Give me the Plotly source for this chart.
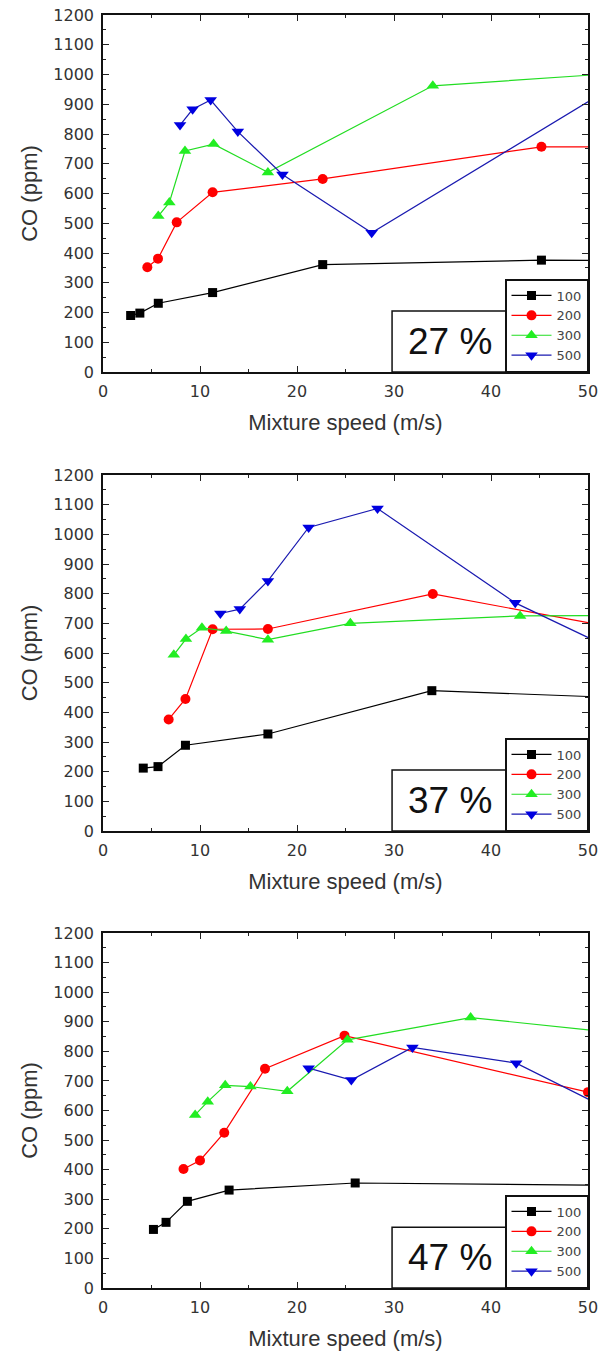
import plotly.graph_objects as go

# ---------------- data ----------------
series_names = ["100", "200", "300", "500"]
panel_labels = ["27 %", "37 %", "47 %"]

# Panel 1 (27 %)
p1_x_100 = [2.85, 3.8, 5.7, 11.3, 22.65, 45.2, 52]
p1_y_100 = [190, 198, 231, 267, 361, 376, 375]
p1_x_200 = [4.57, 5.67, 7.6, 11.3, 22.65, 45.2, 52]
p1_y_200 = [352, 381, 503, 604, 649, 757, 757]
p1_x_300 = [5.7, 6.84, 8.45, 11.4, 17.0, 34.0, 52]
p1_y_300 = [524, 570, 743, 766, 671, 962, 1002]
p1_x_500 = [7.94, 9.24, 11.1, 13.9, 18.5, 27.7, 52]
p1_y_500 = [830, 883, 914, 808, 664, 468, 948]

# Panel 2 (37 %)
p2_x_100 = [4.15, 5.67, 8.5, 17.0, 33.9, 52]
p2_y_100 = [212, 217, 289, 327, 473, 451]
p2_x_200 = [6.77, 8.5, 11.3, 17.0, 34.0, 52]
p2_y_200 = [376, 445, 680, 681, 799, 690]
p2_x_300 = [7.3, 8.55, 10.2, 12.7, 17.0, 25.5, 43.0, 52]
p2_y_300 = [594, 647, 685, 674, 645, 700, 725, 726]
p2_x_500 = [12.1, 14.1, 17.0, 21.2, 28.3, 42.5, 52]
p2_y_500 = [733, 748, 843, 1023, 1087, 769, 621]

# Panel 3 (47 %)
p3_x_100 = [5.2, 6.5, 8.7, 13.0, 26.0, 52]
p3_y_100 = [198, 222, 293, 331, 355, 347]
p3_x_200 = [8.3, 10.0, 12.5, 16.7, 24.9, 50.0]
p3_y_200 = [402, 431, 525, 741, 853, 662]
p3_x_300 = [9.5, 10.8, 12.6, 15.2, 19.0, 25.2, 37.9, 52]
p3_y_300 = [585, 630, 685, 681, 665, 839, 914, 866]
p3_x_500 = [21.2, 25.6, 31.9, 42.6, 52]
p3_y_500 = [743, 703, 813, 760, 606]

x_tick_vals = [0, 10, 20, 30, 40, 50]
y_tick_vals = list(range(0, 1201, 100))

panels = [
    [(p1_x_100, p1_y_100), (p1_x_200, p1_y_200), (p1_x_300, p1_y_300), (p1_x_500, p1_y_500)],
    [(p2_x_100, p2_y_100), (p2_x_200, p2_y_200), (p2_x_300, p2_y_300), (p2_x_500, p2_y_500)],
    [(p3_x_100, p3_y_100), (p3_x_200, p3_y_200), (p3_x_300, p3_y_300), (p3_x_500, p3_y_500)],
]

# ---------------- style ----------------
W, H = 612, 1354
line_colors = ["#000000", "#ff0000", "#22dd22", "#1a1ab0"]
marker_colors = ["#000000", "#ff0000", "#22ee22", "#0000e0"]
symbols = ["square", "circle", "triangle-up", "triangle-down"]
msizes = [9, 10, 11, 11]

x_left, x_right = 103, 588
panel_px = [(15, 372), (475, 831), (933, 1288)]

tick_font = dict(family="DejaVu Sans, sans-serif", size=16, color="#333")
title_font = dict(family="Liberation Sans, Arial, sans-serif", size=22, color="#333")

fig = go.Figure()
layout = dict(
    width=W, height=H,
    margin=dict(l=0, r=0, t=0, b=0, autoexpand=False),
    paper_bgcolor="white", plot_bgcolor="white",
    font=dict(family="Liberation Sans, Arial, sans-serif", color="#333"),
    shapes=[], annotations=[],
)

for i, panel in enumerate(panels):
    sfx = "" if i == 0 else str(i + 1)
    leg = "legend" if i == 0 else f"legend{i + 1}"
    for j, (xs, ys) in enumerate(panel):
        fig.add_trace(go.Scatter(
            x=xs, y=ys, name=series_names[j], mode="lines+markers",
            xaxis="x" + sfx, yaxis="y" + sfx, legend=leg,
            line=dict(color=line_colors[j], width=1.2),
            marker=dict(symbol=symbols[j], size=msizes[j], color=marker_colors[j]),
            cliponaxis=True,
        ))
    top, bot = panel_px[i]
    ydom = [1 - bot / H, 1 - top / H]
    layout["xaxis" + sfx] = dict(
        domain=[x_left / W, x_right / W], anchor="y" + sfx, range=[0, 50],
        automargin=False, ticklabeloverflow="allow", ticklabelstandoff=4,
        tickvals=x_tick_vals, ticks="inside", ticklen=6, tickwidth=1.2, tickcolor="#222",
        minor=dict(dtick=5, ticks="inside", ticklen=3, tickcolor="#222"),
        showline=True, linecolor="#111", linewidth=1.5, mirror="ticks",
        showgrid=False, zeroline=False,
        tickfont=tick_font,
        title=dict(text="Mixture speed (m/s)", font=title_font, standoff=15),
    )
    layout["yaxis" + sfx] = dict(
        domain=ydom, anchor="x" + sfx, range=[0, 1200],
        automargin=False, ticklabeloverflow="allow", ticklabelstandoff=4,
        tickvals=y_tick_vals, ticks="inside", ticklen=6, tickwidth=1.2, tickcolor="#222",
        minor=dict(dtick=50, ticks="inside", ticklen=3, tickcolor="#222"),
        showline=True, linecolor="#111", linewidth=1.5, mirror="ticks",
        showgrid=False, zeroline=False,
        tickfont=tick_font,
        title=dict(text="CO (ppm)", font=title_font, standoff=10),
    )
    layout[leg] = dict(
        x=x_right / W, xanchor="right", y=1 - bot / H, yanchor="bottom",
        bordercolor="#111", borderwidth=1.5, bgcolor="white",
        font=dict(family="DejaVu Sans, sans-serif", size=13, color="#444"),
        tracegroupgap=0, itemwidth=40,
    )
    # label box
    layout["shapes"].append(dict(
        type="rect", xref=f"x{sfx} domain", yref=f"y{sfx} domain",
        x0=0.596, x1=0.836, y0=0, y1=0.171,
        line=dict(color="#111", width=1.5), fillcolor="white", layer="above",
    ))
    layout["annotations"].append(dict(
        text=panel_labels[i], xref=f"x{sfx} domain", yref=f"y{sfx} domain",
        x=0.716, y=0.085, showarrow=False, xanchor="center", yanchor="middle",
        font=dict(size=37, color="#111", family="Liberation Sans, Arial, sans-serif"),
    ))

fig.update_layout(**layout)
# remove the default 8px page margin so the figure fills the window exactly
fig.write_html("out.html", config={"displayModeBar": False},
               post_script="document.body.style.margin='0';")
